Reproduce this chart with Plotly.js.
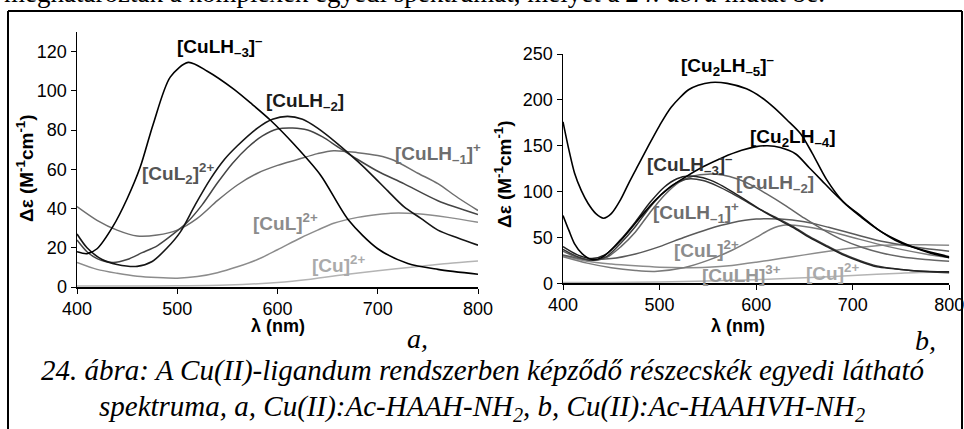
<!DOCTYPE html>
<html><head><meta charset="utf-8">
<script src="https://cdn.plot.ly/plotly-3.0.1.min.js"></script>
<style>html,body{margin:0;padding:0;background:#fff;} #chart{width:964px;height:429px;}</style>
</head><body><div id="chart"></div>
<script>
// ---------- Panel a: Cu(II):Ac-HAAH-NH2 ----------
const a_CuLH3_wl = [400,410,420,436,450,463,476,493,511,530,556,575,593,616,643,671,700,730,760,800];
const a_CuLH3_v  = [18,17,19.5,31,45,61,83,107,114.5,110,101,93,85,73,57,34,19.5,12,9,6.5];
const a_CuLH2_wl = [400,410,425,440,460,475,490,503,518,533,547,560,580,595,610,625,640,660,680,693,710,726,743,760,780,800];
const a_CuLH2_v  = [27,20,14,11.5,10.5,13,20,28,42,55,65,72,81,85.5,87,85.5,81,73,64,57.7,49,41,35,29,25,21.3];
const a_CuL2_wl  = [400,410,420,436,450,465,480,496,510,525,540,555,570,585,600,615,630,645,660,680,700,726,760,800];
const a_CuL2_v   = [24,18,14.5,12.5,14,17.5,21,27,33,42,53,63,71,77,80.5,81,80,76.5,71.5,65,59,52.7,44,37];
const a_CuLH1_wl = [400,420,440,460,480,500,520,540,560,580,600,620,640,656,680,700,716,740,760,780,800];
const a_CuLH1_v  = [41,34,29,26,26.5,29,35,44,52,58,62,65,68,69.5,68.5,67,64.6,58,52.7,45.5,39];
const a_CuL_wl   = [400,420,440,460,480,500,520,540,560,580,600,623,640,656,680,700,713,740,770,800];
const a_CuL_v    = [12.5,9,7,5.5,4.8,4.5,5.3,7.3,10.3,14,19,25,29,32.5,35.5,37,37.6,37.3,35.5,33];
const a_Cu_wl    = [400,450,500,550,600,633,670,700,736,770,800];
const a_Cu_v     = [0.5,0.5,0.6,1,2.3,4,6.5,8.3,10.2,12,13.2];

// ---------- Panel b: Cu(II):Ac-HAAHVH-NH2 ----------
const b_Cu2LH5_wl = [400,406,412,419,426,434,442,450,460,468,478,488,500,512,530,540,553,570,590,605,618,632,646,658,673,690,709,727,744,760,780,800];
const b_Cu2LH5_v  = [176,146,120,101,87,76,71,76,92,109,129,149,172,192,211,216,219,218,212,203,192,178,163,142,113,89,72,58,47,40,34,29];
const b_Cu2LH4_wl = [400,406,412,420,430,440,460,480,495,510,527,545,565,585,600,612,625,641,655,668,680,692,709,727,744,761,780,800];
const b_Cu2LH4_v  = [74,58,43,32,26,28,47,72,90,104,116,127,137,145,149,150,148,141,126,112,99,87,73,58,48,40,33,28];
const b_CuLH3_wl  = [400,415,430,445,460,475,490,505,518,530,545,560,575,590,605,620,638,655,673,690,707,725,742,760,780,800];
const b_CuLH3_v   = [40,31,27,32,48,67,88,105,114,117,115,109,100,90,80,71,61,50,40,31,24,18,16,14,13,12.5];
const b_CuLH1_wl  = [400,415,430,445,460,475,490,505,520,532,545,560,575,590,605,620,638,655,673,690,707,725,742,760,780,800];
const b_CuLH1_v   = [37,29,25,29,44,62,83,100,111,114,112,106,98,89,80,72,62,51,41,32,25,19,16,14,12.5,11.5];
const b_CuLH2_wl  = [400,415,430,445,460,475,490,505,520,535,550,565,580,595,610,630,650,670,690,710,730,750,775,800];
const b_CuLH2_v   = [35,28,25,28,40,56,77,96,110,117,119,118,114,107,98,85,71,58,47,39,33,29,26,24];
const b_peak70_wl = [400,425,450,475,500,525,550,575,600,625,650,675,700,725,750,775,800];
const b_peak70_v  = [31,26,27,32,40,50,59,66,70,70,67,61,54,47,42,38,35];
const b_CuL_wl    = [400,425,450,475,495,525,550,575,600,615,630,650,675,700,725,750,775,800];
const b_CuL_v     = [29,22,17,14,13,17,25,36,50,59,63.5,62,57,50,43,37,32,28];
const b_CuLH_wl   = [400,425,450,475,500,525,550,575,600,625,650,675,700,725,750,775,800];
const b_CuLH_v    = [30,24,21,19,17.5,17,17.5,19.5,23,27,31,35,38.5,41,42,42,41.5];
const b_Cu_wl     = [400,450,500,550,600,650,700,750,800];
const b_Cu_v      = [1,1,1.5,2.5,4,6,8.5,11,12.5];

const ticksA_x = [400,500,600,700,800];
const ticksA_y = [0,20,40,60,80,100,120];
const ticksB_y = [0,50,100,150,200,250];

function tr(x, y, color, width, xa, ya, name) {
  return {x: x, y: y, type: 'scatter', mode: 'lines', name: name,
    line: {color: color, width: width, shape: 'spline', smoothing: 0.8},
    xaxis: xa, yaxis: ya, hoverinfo: 'skip'};
}

const data = [
  tr(a_Cu_wl, a_Cu_v, '#b4b4b4', 1.5, 'x', 'y', '[Cu]2+'),
  tr(a_CuL_wl, a_CuL_v, '#8c8c8c', 1.5, 'x', 'y', '[CuL]2+'),
  tr(a_CuLH1_wl, a_CuLH1_v, '#6e6e6e', 1.5, 'x', 'y', '[CuLH-1]+'),
  tr(a_CuL2_wl, a_CuL2_v, '#454545', 1.5, 'x', 'y', '[CuL2]2+'),
  tr(a_CuLH2_wl, a_CuLH2_v, '#151515', 1.6, 'x', 'y', '[CuLH-2]'),
  tr(a_CuLH3_wl, a_CuLH3_v, '#000000', 1.6, 'x', 'y', '[CuLH-3]-'),

  tr(b_Cu_wl, b_Cu_v, '#b4b4b4', 1.5, 'x2', 'y2', '[Cu]2+'),
  tr(b_CuLH_wl, b_CuLH_v, '#8c8c8c', 1.5, 'x2', 'y2', '[CuLH]3+'),
  tr(b_CuL_wl, b_CuL_v, '#7a7a7a', 1.5, 'x2', 'y2', '[CuL]2+'),
  tr(b_peak70_wl, b_peak70_v, '#5a5a5a', 1.5, 'x2', 'y2', 'species'),
  tr(b_CuLH2_wl, b_CuLH2_v, '#666666', 1.5, 'x2', 'y2', '[CuLH-2]'),
  tr(b_CuLH1_wl, b_CuLH1_v, '#3a3a3a', 1.5, 'x2', 'y2', '[CuLH-1]+'),
  tr(b_CuLH3_wl, b_CuLH3_v, '#222222', 1.5, 'x2', 'y2', '[CuLH-3]-'),
  tr(b_Cu2LH4_wl, b_Cu2LH4_v, '#000000', 1.6, 'x2', 'y2', '[Cu2LH-4]'),
  tr(b_Cu2LH5_wl, b_Cu2LH5_v, '#000000', 1.6, 'x2', 'y2', '[Cu2LH-5]-')
];

const W = 964, H = 429;
const px = v => v / W;
const py = v => (H - v) / H;
const sans = 'Liberation Sans, Arial, sans-serif';
const serif = 'Liberation Serif, Times New Roman, serif';

function axisX(dom, anchor) {
  return {domain: dom, range: [400, 800], anchor: anchor, tickvals: ticksA_x,
    showline: true, linecolor: '#000', linewidth: 1.5, ticks: 'outside', ticklen: 5,
    tickcolor: '#000', tickwidth: 1, showgrid: false, zeroline: false,
    ticklabelstandoff: 0, ticklabeloverflow: 'allow',
    tickfont: {family: sans, size: 18, color: '#000'}, fixedrange: true};
}
function axisY(dom, anchor, rng, tv) {
  return {domain: dom, range: rng, anchor: anchor, tickvals: tv,
    showline: true, linecolor: '#000', linewidth: 1.5, ticks: 'outside', ticklen: 5,
    tickcolor: '#000', tickwidth: 1, showgrid: false, zeroline: false,
    ticklabeloverflow: 'allow',
    tickfont: {family: sans, size: 18, color: '#000'}, fixedrange: true};
}

function lab(text, x, y, color, xa, ya) {
  return {text: '<b>' + text + '</b>', x: x, y: y, xref: xa, yref: ya, showarrow: false,
    font: {family: sans, size: 19, color: color}, xanchor: 'center', yanchor: 'middle'};
}
function ptxt(text, x, y, font, xanchor, angle) {
  return {text: text, x: px(x), y: py(y), xref: 'paper', yref: 'paper', showarrow: false,
    font: font, xanchor: xanchor || 'center', yanchor: 'middle', textangle: angle || 0};
}

const annotations = [
  lab('[CuLH<sub>–3</sub>]<sup>–</sup>', 543, 122.5, '#000', 'x', 'y'),
  lab('[CuLH<sub>–2</sub>]', 627, 94.5, '#1a1a1a', 'x', 'y'),
  lab('[CuLH<sub>–1</sub>]<sup>+</sup>', 760, 68, '#6e6e6e', 'x', 'y'),
  lab('[CuL<sub>2</sub>]<sup>2+</sup>', 501, 58, '#555555', 'x', 'y'),
  lab('[CuL]<sup>2+</sup>', 608, 33, '#8c8c8c', 'x', 'y'),
  lab('[Cu]<sup>2+</sup>', 661, 11.7, '#aaaaaa', 'x', 'y'),

  lab('[Cu<sub>2</sub>LH<sub>–5</sub>]<sup>–</sup>', 570, 237, '#000', 'x2', 'y2'),
  lab('[Cu<sub>2</sub>LH<sub>–4</sub>]', 638, 158, '#000', 'x2', 'y2'),
  lab('[CuLH<sub>–3</sub>]<sup>–</sup>', 532, 129, '#333333', 'x2', 'y2'),
  lab('[CuLH<sub>–2</sub>]', 619, 108, '#666666', 'x2', 'y2'),
  lab('[CuLH<sub>–1</sub>]<sup>+</sup>', 538, 77, '#6e6e6e', 'x2', 'y2'),
  lab('[CuL]<sup>2+</sup>', 549, 37, '#8c8c8c', 'x2', 'y2'),
  lab('[CuLH]<sup>3+</sup>', 585, 10, '#999999', 'x2', 'y2'),
  lab('[Cu]<sup>2+</sup>', 679, 12, '#aaaaaa', 'x2', 'y2'),

  ptxt('<b>Δε (M<sup>-1</sup>cm<sup>-1</sup>)</b>', 25, 168, {family: sans, size: 19, color: '#000'}, 'center', -90),
  ptxt('<b>Δε (M<sup>-1</sup>cm<sup>-1</sup>)</b>', 503, 174, {family: sans, size: 19, color: '#000'}, 'center', -90),
  ptxt('<b>λ (nm)</b>', 278, 326, {family: sans, size: 18, color: '#000'}),
  ptxt('<b>λ (nm)</b>', 738, 326, {family: sans, size: 18, color: '#000'}),
  ptxt('<i>a,</i>', 417, 338, {family: serif, size: 28, color: '#000'}),
  ptxt('<i>b,</i>', 925, 340, {family: serif, size: 28, color: '#000'}),
  ptxt('<i>24. ábra: A Cu(II)-ligandum rendszerben képződő részecskék egyedi látható</i>', 482, 370, {family: serif, size: 29, color: '#000'}),
  ptxt('<i>spektruma, a, Cu(II):Ac-HAAH-NH<sub>2</sub>, b, Cu(II):Ac-HAAHVH-NH<sub>2</sub></i>', 482, 408, {family: serif, size: 29, color: '#000'}),
  ptxt('meghatározták a komplexek egyedi spektrumát, melyet a <i>24. ábra</i> mutat be.', 2, -7, {family: serif, size: 27, color: '#000'}, 'left')
];

const shapes = [
  {type: 'line', xref: 'paper', yref: 'paper', x0: px(8), x1: px(8), y0: 0, y1: py(11), line: {color: '#000', width: 2}},
  {type: 'line', xref: 'paper', yref: 'paper', x0: px(8), x1: px(962), y0: py(11), y1: py(11), line: {color: '#000', width: 2}},
  {type: 'line', xref: 'paper', yref: 'paper', x0: px(962), x1: px(962), y0: 0, y1: py(11), line: {color: '#000', width: 2}}
];

const layout = {
  width: W, height: H, margin: {l: 0, r: 0, t: 0, b: 0},
  paper_bgcolor: '#fff', plot_bgcolor: 'rgba(0,0,0,0)', showlegend: false,
  xaxis: axisX([px(77), px(478)], 'y'),
  yaxis: axisY([1 - 287/H, 1 - 32/H], 'x', [0, 130], ticksA_y),
  xaxis2: axisX([px(563), px(949.3)], 'y2'),
  yaxis2: axisY([1 - 283.3/H, 1 - 54/H], 'x2', [0, 250], ticksB_y),
  annotations: annotations, shapes: shapes
};

Plotly.newPlot('chart', data, layout, {displayModeBar: false, staticPlot: true});
</script></body></html>
